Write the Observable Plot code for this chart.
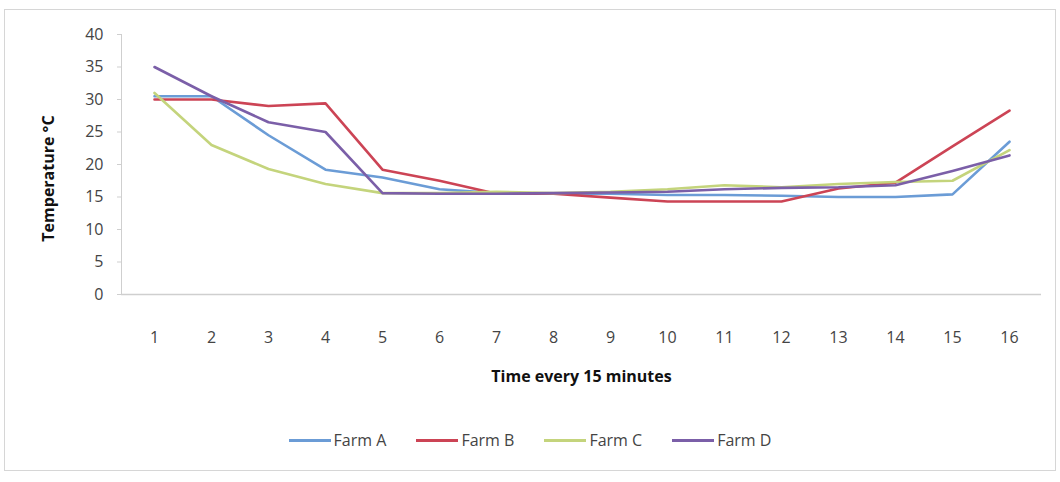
<!DOCTYPE html>
<html>
<head>
<meta charset="utf-8">
<script src="https://cdn.jsdelivr.net/npm/d3@7"></script>
<script src="https://cdn.jsdelivr.net/npm/@observablehq/plot@0.6"></script>
<style>
  body { margin: 0; background: #fff; font-family: "Open Sans", Lato, sans-serif; }
  #wrap { position: relative; width: 1060px; height: 482px; overflow: hidden; }
  #frame { position: absolute; left: 4px; top: 9px; width: 1052px; height: 462px; border: 1px solid #d6d6d6; box-sizing: border-box; }
  #chart { position: absolute; left: 0; top: 0; }
  #legend { position: absolute; top: 429px; left: 0; width: 1060px; display: flex; justify-content: center; gap: 30px; font-size: 16px; color: #444; box-sizing: border-box; }
  #legend .item { display: flex; align-items: center; }
  #legend .sw { width: 42px; height: 3px; margin-right: 3px; }
</style>
</head>
<body>
<div id="wrap">
  <div id="frame"></div>
  <div id="chart"></div>
  <div id="legend"></div>
</div>
<script>
const times = [1,2,3,4,5,6,7,8,9,10,11,12,13,14,15,16];
const farmA = [30.5,30.5,24.5,19.2,18.0,16.2,15.6,15.5,15.5,15.3,15.3,15.2,15.0,15.0,15.4,23.5];
const farmB = [30.0,30.0,29.0,29.4,19.2,17.5,15.5,15.5,14.9,14.3,14.3,14.3,16.3,17.2,22.8,28.3];
const farmC = [31.0,23.0,19.3,17.0,15.6,15.6,15.8,15.6,15.8,16.2,16.8,16.5,17.0,17.3,17.5,22.2];
const farmD = [35.0,30.5,26.5,25.0,15.6,15.5,15.5,15.6,15.7,15.8,16.2,16.4,16.5,16.8,19.0,21.4];
const seriesNames = ["Farm A","Farm B","Farm C","Farm D"];
const seriesColors = ["#6b9cd6","#cc4455","#c4d47c","#7b5fa8"];
const yTicks = [0,5,10,15,20,25,30,35,40];

const seriesValues = [farmA, farmB, farmC, farmD];
const rows = [];
seriesNames.forEach((name, i) => {
  times.forEach((t, j) => rows.push({series: name, time: t, temp: seriesValues[i][j]}));
});

const chart = Plot.plot({
  width: 1060,
  height: 410,
  marginLeft: 121,
  marginRight: 19,
  marginTop: 34,
  marginBottom: 116,
  style: {fontFamily: "'Open Sans', Lato, sans-serif", fontSize: "16px", color: "#444", background: "transparent"},
  x: {type: "point", domain: times, padding: 0.5},
  y: {domain: [0, 40]},
  color: {domain: seriesNames, range: seriesColors},
  marks: [
    Plot.frame({anchor: "left", stroke: "#cfcfcf"}),
    Plot.ruleY([0], {stroke: "#cfcfcf", strokeWidth: 1.5}),
    Plot.axisY({ticks: yTicks, tickSize: 4, tickPadding: 14, stroke: "#cfcfcf", label: null, fontSize: 16, fill: "#444"}),
    Plot.axisX({tickSize: 0, tickPadding: 37, label: null, fontSize: 16, fill: "#444"}),
    Plot.line(rows, {x: "time", y: "temp", z: "series", stroke: "series", strokeWidth: 2.6, curve: "linear"}),
    Plot.text(["Time every 15 minutes"], {frameAnchor: "bottom", dy: 87, fontWeight: "bold", fontSize: 16, fill: "#111"}),
    Plot.text(["Temperature °C"], {frameAnchor: "left", dx: -73, dy: 14, rotate: -90, textAnchor: "middle", fontWeight: "bold", fontSize: 16, fill: "#111"})
  ]
});
document.getElementById("chart").appendChild(chart);

const legend = document.getElementById("legend");
seriesNames.forEach((name, i) => {
  const item = document.createElement("div");
  item.className = "item";
  const sw = document.createElement("div");
  sw.className = "sw";
  sw.style.background = seriesColors[i];
  const label = document.createElement("span");
  label.textContent = name;
  item.appendChild(sw);
  item.appendChild(label);
  legend.appendChild(item);
});
</script>
</body>
</html>
